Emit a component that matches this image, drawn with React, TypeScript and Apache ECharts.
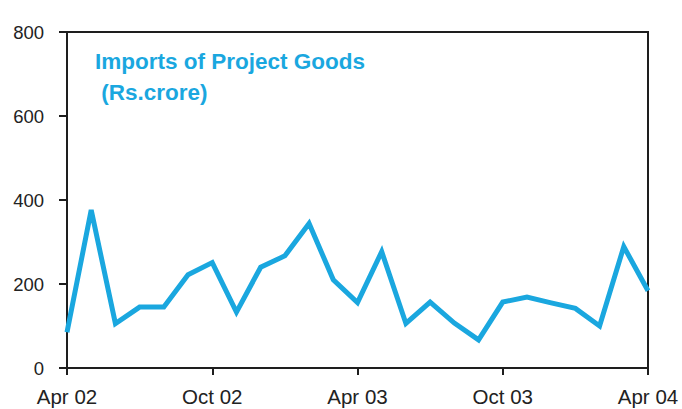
import React, { useEffect, useRef } from "react";
import * as echarts from "echarts";

const months = [
  "Apr 02", "May 02", "Jun 02", "Jul 02", "Aug 02", "Sep 02",
  "Oct 02", "Nov 02", "Dec 02", "Jan 03", "Feb 03", "Mar 03",
  "Apr 03", "May 03", "Jun 03", "Jul 03", "Aug 03", "Sep 03",
  "Oct 03", "Nov 03", "Dec 03", "Jan 04", "Feb 04", "Mar 04",
  "Apr 04",
];
const importsProjectGoods = [
  85, 376, 106, 145, 145, 222, 251, 133, 240, 267, 344, 210,
  156, 277, 106, 157, 107, 67, 157, 169, 155, 142, 100, 289,
  184,
];
const yTicks = { min: 0, max: 800, interval: 200 };
const titleLines = ["Imports of Project Goods", " (Rs.crore)"];

const LINE_COLOR = "#1aa7df";
const AXIS_COLOR = "#1e1e1e";
const FONT = "'Liberation Sans', Arial, Helvetica, sans-serif";

export default function App() {
  const ref = useRef<HTMLDivElement>(null);
  useEffect(() => {
    const chart = echarts.init(ref.current!, null, { renderer: "svg" });
    chart.setOption({
      animation: false,
      backgroundColor: "#ffffff",
      grid: {
        left: 67,
        top: 32,
        width: 581,
        height: 336,
        show: true,
        borderColor: AXIS_COLOR,
        borderWidth: 2,
        backgroundColor: "transparent",
      },
      xAxis: {
        type: "category",
        data: months,
        boundaryGap: false,
        axisLine: { lineStyle: { color: AXIS_COLOR, width: 2 } },
        axisTick: { interval: 5, length: 7, lineStyle: { color: AXIS_COLOR, width: 2 } },
        axisLabel: {
          interval: 5,
          margin: 18,
          color: "#222",
          fontSize: 20.5,
          fontFamily: FONT,
          showMaxLabel: true,
        },
        splitLine: { show: false },
      },
      yAxis: {
        type: "value",
        min: yTicks.min,
        max: yTicks.max,
        interval: yTicks.interval,
        axisLine: { show: true, lineStyle: { color: AXIS_COLOR, width: 2 } },
        axisTick: { show: true, length: 8, lineStyle: { color: AXIS_COLOR, width: 2 } },
        axisLabel: {
          margin: 23,
          color: "#222",
          fontSize: 18.5,
          fontFamily: FONT,
          padding: [0, 0, 10, 0],
        },
        splitLine: { show: false },
      },
      graphic: titleLines.map((t, i) => ({
        type: "text",
        left: 95,
        top: i === 0 ? 50 : 81,
        style: {
          text: t,
          fill: LINE_COLOR,
          fontSize: 22.5,
          fontWeight: "bold",
          fontFamily: FONT,
        },
      })),
      series: [
        {
          type: "line",
          data: importsProjectGoods,
          symbol: "none",
          lineStyle: { color: LINE_COLOR, width: 5, join: "miter" },
        },
      ],
    });
    return () => chart.dispose();
  }, []);
  return (
    <div
      ref={ref}
      style={{ position: "absolute", left: 0, top: 0, width: 682, height: 409 }}
    />
  );
}
